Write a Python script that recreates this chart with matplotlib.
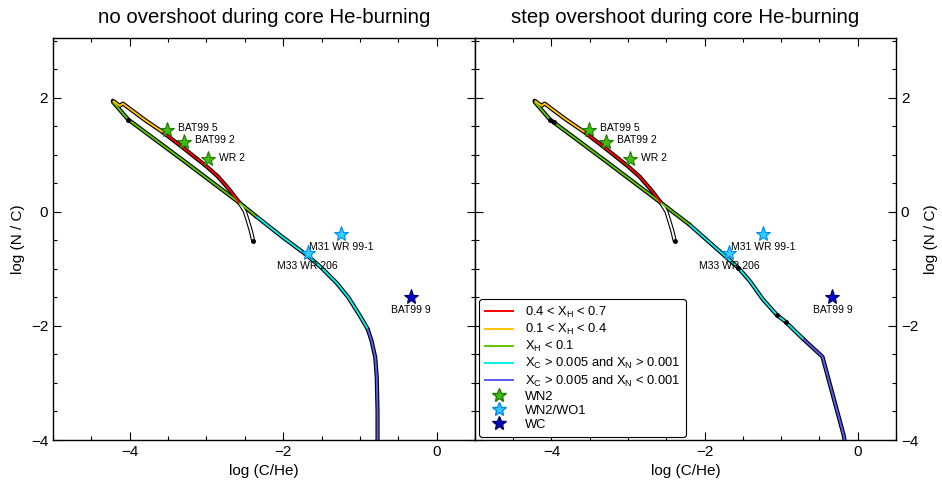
import numpy as np
import matplotlib.pyplot as plt
from matplotlib.lines import Line2D

plt.rcParams['font.family'] = ['Liberation Sans', 'DejaVu Sans']
plt.rcParams['mathtext.default'] = 'regular'

# upper branch of the track (same in both runs)
pre_x = [-2.39, -2.42, -2.46, -2.50, -2.57]
pre_y = [-0.51, -0.34, -0.16, 0.01, 0.16]
red_x = [-2.57, -2.70, -2.85, -3.00, -3.30, -3.57]
red_y = [0.16, 0.39, 0.62, 0.80, 1.12, 1.40]
yel_x = [-3.57, -3.80, -4.09, -4.13, -4.22]
yel_y = [1.40, 1.61, 1.90, 1.86, 1.95]

# no overshoot run, lower branch
grn1_x = [-4.22, -4.02, -3.30, -2.57, -2.35]
grn1_y = [1.93, 1.62, 0.90, 0.16, -0.08]
cyn1_x = [-2.35, -2.00, -1.69, -1.50, -1.30, -1.15, -1.00, -0.90]
cyn1_y = [-0.08, -0.45, -0.76, -0.98, -1.25, -1.50, -1.82, -2.05]
blu1_x = [-0.90, -0.85, -0.80, -0.78, -0.77, -0.77]
blu1_y = [-2.05, -2.25, -2.55, -2.90, -3.50, -4.20]
dot1_x = [-4.02, -2.39]
dot1_y = [1.62, -0.51]

# step overshoot run, lower branch
grn2_x = [-4.22, -4.02, -3.30, -2.57, -2.20]
grn2_y = [1.93, 1.62, 0.90, 0.16, -0.22]
cyn2_x = [-2.20, -2.04, -1.56, -1.41, -1.24, -1.06, -0.94, -0.71]
cyn2_y = [-0.22, -0.41, -0.98, -1.21, -1.53, -1.80, -1.93, -2.23]
blu2_x = [-0.71, -0.46, -0.18, -0.15]
blu2_y = [-2.23, -2.54, -3.93, -4.20]
dot2_x = [-4.02, -3.97, -1.56, -1.06, -0.94, -2.39]
dot2_y = [1.62, 1.57, -0.98, -1.80, -1.93, -0.51]

# observed stars
wn2_names = ['BAT99 5', 'BAT99 2', 'WR 2']
wn2_x = [-3.51, -3.29, -2.98]
wn2_y = [1.44, 1.23, 0.93]
wo_names = ['M31 WR 99-1', 'M33 WR 206']
wo_x = [-1.24, -1.68]
wo_y = [-0.39, -0.72]
wc_names = ['BAT99 9']
wc_x = [-0.33]
wc_y = [-1.49]

c_red = '#ff0000'
c_yel = '#ffc400'
c_grn = '#5cc800'
c_cyn = '#00f0f0'
c_blu = '#5a5af0'


def seg(ax, x, y, c):
    ax.plot(x, y, color='black', lw=3.0, solid_capstyle='round', zorder=2)
    ax.plot(x, y, color=c, lw=1.4, solid_capstyle='butt', zorder=3)


def panel(ax, gx, gy, cx, cy, bx, by, dx, dy, title):
    seg(ax, pre_x, pre_y, 'white')
    seg(ax, gx, gy, c_grn)
    seg(ax, cx, cy, c_cyn)
    seg(ax, bx, by, c_blu)
    seg(ax, red_x, red_y, c_red)
    seg(ax, yel_x, yel_y, c_yel)
    ax.plot(dx, dy, 'o', color='black', ms=2.5, zorder=4)

    ax.plot(wn2_x, wn2_y, '*', ms=11, mfc='#44bb11', mec='#1f7a00', mew=0.8, zorder=5)
    ax.plot(wo_x, wo_y, '*', ms=11, mfc='#33ccff', mec='#0088ee', mew=0.8, zorder=5)
    ax.plot(wc_x, wc_y, '*', ms=11, mfc='#0000cc', mec='#000066', mew=0.8, zorder=5)
    for n, x, y in zip(wn2_names, wn2_x, wn2_y):
        ax.annotate(n, (x, y), xytext=(8, 1), textcoords='offset points',
                    ha='left', va='center', fontsize=7.5)
    for n, x, y in zip(wo_names + wc_names, wo_x + wc_x, wo_y + wc_y):
        ax.annotate(n, (x, y), xytext=(0, -9.5), textcoords='offset points',
                    ha='center', va='center', fontsize=7.5)

    ax.set_xlim(-5, 0.5)
    ax.set_ylim(-4, 3.05)
    ax.set_xticks([-4, -2, 0])
    ax.set_yticks([-4, -2, 0, 2])
    ax.set_xticks(np.arange(-5, 0.51, 0.5), minor=True)
    ax.set_yticks(np.arange(-4, 3.01, 0.5), minor=True)
    ax.tick_params(which='both', direction='in', top=True, right=True,
                   labelsize=11, width=0.8)
    ax.tick_params(which='major', length=6)
    ax.tick_params(which='minor', length=3)
    for s in ax.spines.values():
        s.set_linewidth(1.0)
    ax.set_xlabel('log (C/He)', fontsize=11)
    ax.set_title(title, fontsize=14.7, pad=11)


fig = plt.figure(figsize=(9.42, 4.93), dpi=100)
ax1 = fig.add_axes([0.0563, 0.1075, 0.4479, 0.8154])
ax2 = fig.add_axes([0.5042, 0.1075, 0.4469, 0.8154])

panel(ax1, grn1_x, grn1_y, cyn1_x, cyn1_y, blu1_x, blu1_y, dot1_x, dot1_y,
      'no overshoot during core He-burning')
panel(ax2, grn2_x, grn2_y, cyn2_x, cyn2_y, blu2_x, blu2_y, dot2_x, dot2_y,
      'step overshoot during core He-burning')

ax1.set_ylabel('log (N / C)', fontsize=11)
ax2.yaxis.tick_right()
ax2.tick_params(which='both', left=True, right=True)
ax2.yaxis.set_label_position('right')
ax2.set_ylabel('log (N / C)', fontsize=11)

handles = [
    Line2D([], [], color=c_red, lw=1.4, label='0.4 < $X_H$ < 0.7'),
    Line2D([], [], color=c_yel, lw=1.4, label='0.1 < $X_H$ < 0.4'),
    Line2D([], [], color=c_grn, lw=1.4, label='$X_H$ < 0.1'),
    Line2D([], [], color=c_cyn, lw=1.4, label='$X_C$ > 0.005 and $X_N$ > 0.001'),
    Line2D([], [], color=c_blu, lw=1.4, label='$X_C$ > 0.005 and $X_N$ < 0.001'),
    Line2D([], [], ls='none', marker='*', ms=10, mfc='#44bb11', mec='#1f7a00', label='WN2'),
    Line2D([], [], ls='none', marker='*', ms=10, mfc='#33ccff', mec='#0088ee', label='WN2/WO1'),
    Line2D([], [], ls='none', marker='*', ms=10, mfc='#0000cc', mec='#000066', label='WC'),
]
leg = ax2.legend(handles=handles, loc='lower left', bbox_to_anchor=(0.01, 0.008),
                 borderaxespad=0, fontsize=9.3, handlelength=2.2, labelspacing=0.16,
                 handletextpad=0.9, borderpad=0.45,
                 framealpha=1, edgecolor='black', fancybox=True)
leg.get_frame().set_linewidth(0.8)

fig.savefig('out.png', dpi=100)
